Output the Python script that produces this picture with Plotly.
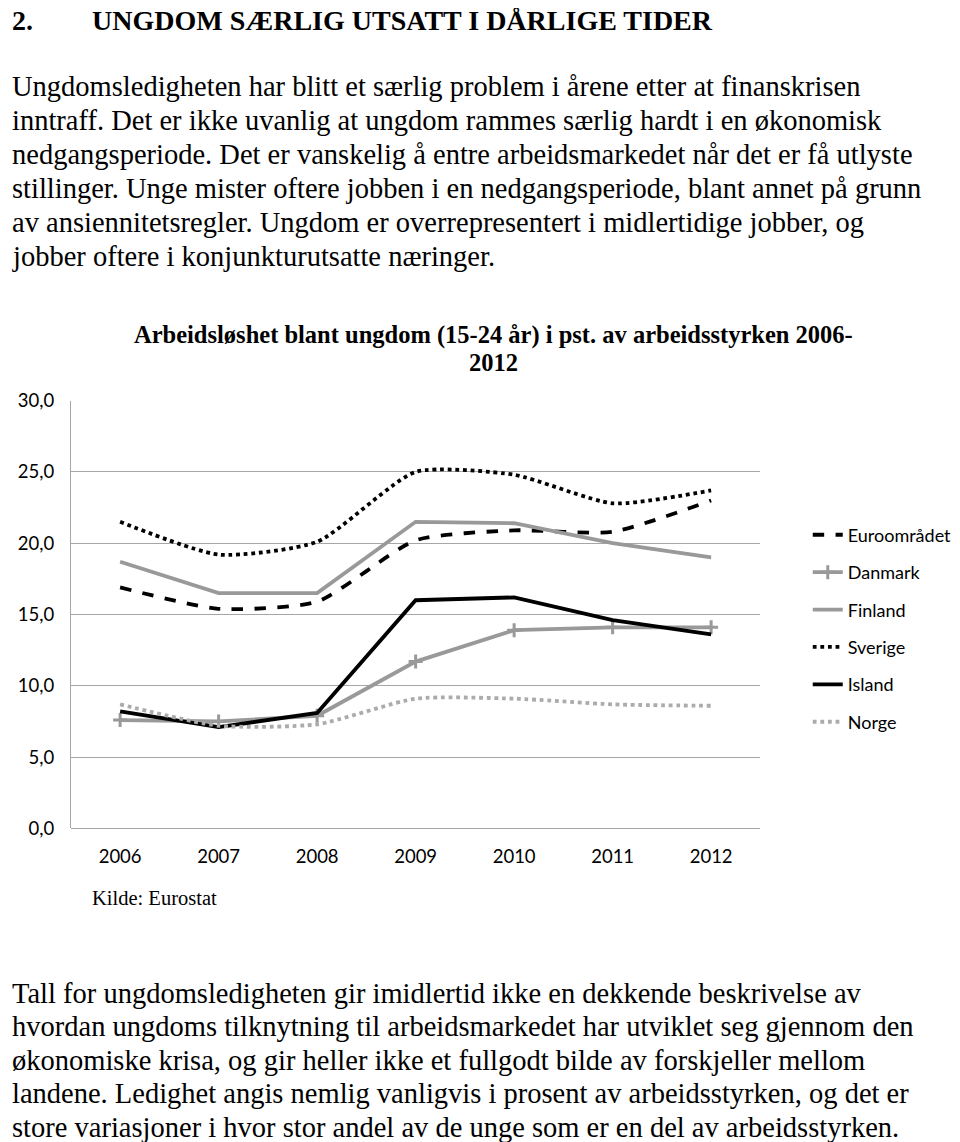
import plotly.graph_objects as go

years = ["2006", "2007", "2008", "2009", "2010", "2011", "2012"]
euro = [16.9, 15.4, 15.9, 20.2, 20.9, 20.8, 23.0]
danmark = [7.6, 7.5, 7.9, 11.7, 13.9, 14.1, 14.1]
finland = [18.7, 16.5, 16.5, 21.5, 21.4, 20.0, 19.0]
sverige = [21.5, 19.2, 20.1, 25.0, 24.8, 22.8, 23.7]
island = [8.2, 7.1, 8.1, 16.0, 16.2, 14.6, 13.6]
norge = [8.7, 7.2, 7.3, 9.1, 9.1, 8.7, 8.6]
yticks = [0, 5, 10, 15, 20, 25, 30]
ytick_labels = ["0,0", "5,0", "10,0", "15,0", "20,0", "25,0", "30,0"]

heading_num = "2."
heading = "UNGDOM SÆRLIG UTSATT I DÅRLIGE TIDER"
para1 = [
    "Ungdomsledigheten har blitt et særlig problem i årene etter at finanskrisen",
    "inntraff. Det er ikke uvanlig at ungdom rammes særlig hardt i en økonomisk",
    "nedgangsperiode. Det er vanskelig å entre arbeidsmarkedet når det er få utlyste",
    "stillinger. Unge mister oftere jobben i en nedgangsperiode, blant annet på grunn",
    "av ansiennitetsregler. Ungdom er overrepresentert i midlertidige jobber, og",
    "jobber oftere i konjunkturutsatte næringer.",
]
para2 = [
    "Tall for ungdomsledigheten gir imidlertid ikke en dekkende beskrivelse av",
    "hvordan ungdoms tilknytning til arbeidsmarkedet har utviklet seg gjennom den",
    "økonomiske krisa, og gir heller ikke et fullgodt bilde av forskjeller mellom",
    "landene. Ledighet angis nemlig vanligvis i prosent av arbeidsstyrken, og det er",
    "store variasjoner i hvor stor andel av de unge som er en del av arbeidsstyrken.",
]
chart_title = ["Arbeidsløshet blant ungdom (15-24 år) i pst. av arbeidsstyrken 2006-", "2012"]
source = "Kilde: Eurostat"

OFF = 8
W, H = 960 - OFF, 1142 - OFF
GREY = "#999999"
LGREY = "#ababab"
SERIF = "Liberation Serif, Times New Roman, serif"
SANS = "Lato, Open Sans, sans-serif"


def px(x):
    x = (x - 2.7) / 0.992
    return max((x - OFF) / W, 0.002)


def py(y):
    y = (y - 11.4) / 0.981
    return 1 - (y - OFF) / H


fig = go.Figure()
lw = 3.8
fig.add_trace(go.Scatter(x=years, y=euro, name="Euroområdet", mode="lines",
                         line=dict(color="black", width=lw, dash="dash", shape="spline", smoothing=0.6),
                         legendgroup="a"))
fig.add_trace(go.Scatter(x=years, y=danmark, name="Danmark", mode="lines+markers",
                         line=dict(color=GREY, width=lw),
                         marker=dict(symbol="cross-thin", size=10, line=dict(color=GREY, width=3)),
                         legendgroup="b"))
fig.add_trace(go.Scatter(x=years, y=finland, name="Finland", mode="lines",
                         line=dict(color=GREY, width=lw), legendgroup="c"))
fig.add_trace(go.Scatter(x=years, y=sverige, name="Sverige", mode="lines",
                         line=dict(color="black", width=lw, dash="dot", shape="spline", smoothing=0.6),
                         legendgroup="d"))
fig.add_trace(go.Scatter(x=years, y=island, name="Island", mode="lines",
                         line=dict(color="black", width=lw), legendgroup="e"))
fig.add_trace(go.Scatter(x=years, y=norge, name="Norge", mode="lines",
                         line=dict(color=LGREY, width=lw, dash="dot", shape="spline", smoothing=0.6),
                         legendgroup="f"))

fig.update_layout(
    width=W, height=H, margin=dict(l=0, r=0, t=0, b=0),
    paper_bgcolor="white", plot_bgcolor="white",
    showlegend=True,
    legend=dict(x=px(804), y=py(516), xanchor="left", yanchor="top",
                font=dict(family=SANS, size=18, color="black"),
                tracegroupgap=11, bgcolor="rgba(0,0,0,0)"),
    xaxis=dict(domain=[px(73), px(757)], type="category", range=[-0.5, 6.5],
               showgrid=False, showline=False, ticks="",
               tickfont=dict(family=SANS, size=18.5, color="black"),
               ticklabelstandoff=15, fixedrange=True),
    yaxis=dict(domain=[py(828), py(400)], range=[0, 30],
               tickvals=yticks, ticktext=ytick_labels,
               showgrid=True, gridcolor="#a6a6a6", gridwidth=1,
               showline=True, linecolor="#a6a6a6", linewidth=1,
               zeroline=True, zerolinecolor="#a6a6a6", zerolinewidth=1,
               ticks="", tickfont=dict(family=SANS, size=18.5, color="black"),
               ticklabelstandoff=12, fixedrange=True),
)

ann = []
ann.append(dict(text="<b>" + heading_num + "</b>", x=px(5), y=py(20), xanchor="left", yanchor="middle",
                font=dict(family=SERIF, size=28, color="black")))
ann.append(dict(text="<b>" + heading + "</b>", x=px(92), y=py(20),
                xanchor="left", yanchor="middle",
                font=dict(family=SERIF, size=28, color="black")))
for i, line in enumerate(para1):
    ann.append(dict(text=line, x=px(6), y=py(86 + 34 * i), xanchor="left", yanchor="middle",
                    font=dict(family=SERIF, size=28.5, color="black")))
for i, line in enumerate(para2):
    ann.append(dict(text=line, x=px(5), y=py(993 + 33.5 * i), xanchor="left", yanchor="middle",
                    font=dict(family=SERIF, size=28.5, color="black")))
for i, line in enumerate(chart_title):
    ann.append(dict(text="<b>" + line + "</b>", x=px(492), y=py(334 + 28 * i), xanchor="center",
                    yanchor="middle", font=dict(family=SERIF, size=24.5, color="black")))
ann.append(dict(text=source, x=px(92), y=py(898), xanchor="left", yanchor="middle",
                font=dict(family=SERIF, size=20.5, color="black")))
for a in ann:
    a.update(xref="paper", yref="paper", showarrow=False)
fig.update_layout(annotations=ann)

fig.write_html("out.html")
